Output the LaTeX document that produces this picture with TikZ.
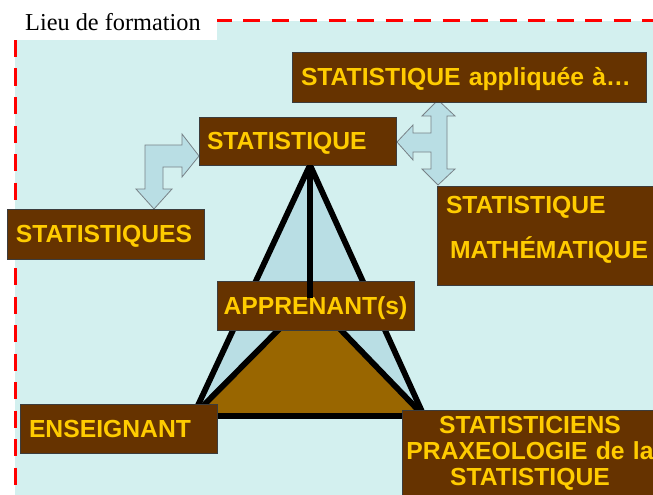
\documentclass[tikz,border=0pt]{standalone}
\usepackage{fontspec}
\setmainfont{Liberation Serif}
\setsansfont{Liberation Sans}
\definecolor{bgcyan}{RGB}{211,240,239}
\definecolor{pyrblue}{RGB}{185,222,228}
\definecolor{boxbrown}{RGB}{102,51,0}
\definecolor{boxline}{RGB}{60,60,60}
\definecolor{txtyellow}{RGB}{255,204,0}
\definecolor{tribrown}{RGB}{153,102,0}
\definecolor{arrowline}{RGB}{120,130,135}
\definecolor{bordred}{RGB}{255,0,0}
\begin{document}
\begin{tikzpicture}[x=1pt,y=-1pt,
  bx/.style={draw=boxline, fill=boxbrown, line width=0.8pt, text=txtyellow,
    font=\sffamily\bfseries\fontsize{24.7pt}{28pt}\selectfont, inner sep=0pt, align=left},
  oneline/.style={text height=17.6pt, text depth=0pt},
  blockarrow/.style={fill=pyrblue, draw=arrowline, line width=0.8pt, line join=miter},
  pyredge/.style={line width=5.8pt, draw=black, line join=miter},
  border/.style={draw=bordred, line width=3pt, dash pattern=on 17pt off 11.5pt}
]
\useasboundingbox (0,0) rectangle (653,495);
\clip (0,0) rectangle (653,495);
\fill[white] (0,0) rectangle (653,495);
% zone
\fill[bgcyan] (15,21) rectangle (660,496);
\draw[border] (15,21) -- (660,21);
\draw[border, dash phase=9.5pt] (15,21) -- (15,496);
\draw[border] (15,496) -- (660,496);
% label
\fill[white] (0,0) rectangle (217,40);
\node[anchor=base west, inner sep=0pt, font=\fontsize{24.3pt}{28pt}\selectfont] (lieu) at (25,31) {Lieu de formation};
% pyramid
\coordinate (apex) at (310,165);
\coordinate (L) at (193,416);
\coordinate (R) at (424,416);
\coordinate (B) at (310,298);
\fill[pyrblue] (apex) -- (L) -- (R) -- cycle;
\fill[tribrown] (L) -- (B) -- (R) -- cycle;
\draw[pyredge] (L) -- (apex) -- (R);
\draw[pyredge] (L) -- (B) -- (R);
\draw[pyredge] (L) -- (R);
% block arrows
\draw[blockarrow] (145,145) -- (182,145) -- (182,134) -- (199,156) -- (182,177) -- (182,167)
  -- (163,167) -- (163,189) -- (172,189) -- (154,209) -- (136,189) -- (145,189) -- cycle;
\draw[blockarrow] (431,116) -- (431,133) -- (413,133) -- (413,125) -- (397,142) -- (413,160)
  -- (413,152) -- (431,152) -- (431,169) -- (422,169) -- (438,185) -- (455,169) -- (447,169)
  -- (447,116) -- (455,116) -- (438,100) -- (422,116) -- cycle;
% boxes
\node[bx, oneline, minimum width=354pt, minimum height=50pt, text width=336pt] (appl) at (469,77) {STATISTIQUE appliquée à…};
\node[bx, oneline, minimum width=197pt, minimum height=48pt, text width=181pt] (stat) at (297.5,141) {STATISTIQUE};
\node[bx, oneline, minimum width=197pt, minimum height=50pt, text width=179pt] (stats) at (105.5,234) {STATISTIQUES};
\node[bx, minimum width=218pt, minimum height=99pt, text width=200pt] (math) at (546,235.5)
  {STATISTIQUE\\[17pt]\hspace*{4pt}MATHÉMATIQUE\rule[-17pt]{0pt}{17pt}};
\node[bx, oneline, align=center, minimum width=197pt, minimum height=49pt, text width=190pt] (appr) at (315.5,305.5) {APPRENANT(s)};
\node[bx, oneline, minimum width=197pt, minimum height=49pt, text width=179pt] (ens) at (118.5,428.5) {ENSEIGNANT};
\node[bx, align=center, minimum width=256pt, minimum height=86pt, text width=250pt,
  font=\sffamily\bfseries\fontsize{24.7pt}{26pt}\selectfont] (prax) at (530,453)
  {STATISTICIENS\\PRAXEOLOGIE de la\\STATISTIQUE};
% vertical edge over the learner box
\draw[pyredge] (apex) -- (B);
\end{tikzpicture}
\end{document}
